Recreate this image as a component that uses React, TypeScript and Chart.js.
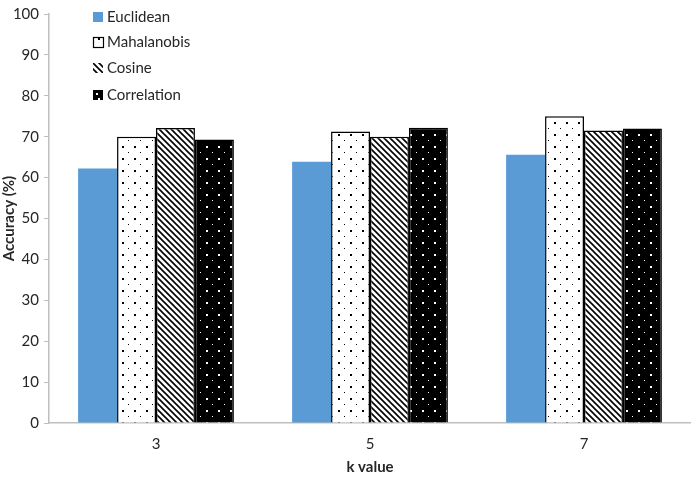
import React, { useEffect, useRef } from "react";
import { Chart, registerables } from "chart.js";

Chart.register(...registerables);

const kValues = ["3", "5", "7"];
const euclidean = [62.2, 63.9, 65.6];
const mahalanobis = [70.0, 71.3, 75.0];
const cosine = [72.1, 70.0, 71.5];
const correlation = [69.3, 72.2, 72.0];
const seriesNames = ["Euclidean", "Mahalanobis", "Cosine", "Correlation"];
const yTicks = [0, 10, 20, 30, 40, 50, 60, 70, 80, 90, 100];

const FONT = "Lato, 'Open Sans', sans-serif";
const TEXT = "#262626";

function makeTile(size: number, draw: (c: CanvasRenderingContext2D) => void): CanvasPattern {
  const cv = document.createElement("canvas");
  cv.width = size;
  cv.height = size;
  const c = cv.getContext("2d")!;
  draw(c);
  const p = document.createElement("canvas").getContext("2d")!.createPattern(cv, "repeat");
  return p as CanvasPattern;
}

// White field with staggered black dots
function dottedWhite() {
  return makeTile(12, (c) => {
    c.fillStyle = "#ffffff";
    c.fillRect(0, 0, 12, 12);
    c.fillStyle = "#000000";
    c.fillRect(2, 2, 2, 2);
    c.fillRect(8, 8, 1, 1);
  });
}

// Black field with staggered white dots
function dottedBlack() {
  return makeTile(12, (c) => {
    c.fillStyle = "#000000";
    c.fillRect(0, 0, 12, 12);
    c.fillStyle = "#ffffff";
    c.fillRect(2, 2, 2, 2);
    c.fillRect(8, 8, 1, 1);
  });
}

// Dense downward diagonal hatching
function diagonal() {
  return makeTile(6, (c) => {
    c.fillStyle = "#ffffff";
    c.fillRect(0, 0, 6, 6);
    c.strokeStyle = "#000000";
    c.lineWidth = 1.6;
    c.beginPath();
    c.moveTo(-1, -1);
    c.lineTo(7, 7);
    c.moveTo(-1, 5);
    c.lineTo(1, 7);
    c.moveTo(5, -1);
    c.lineTo(7, 1);
    c.stroke();
  });
}

export default function App() {
  const ref = useRef<HTMLCanvasElement>(null);

  useEffect(() => {
    const fills = ["#5B9BD5", dottedWhite(), diagonal(), dottedBlack()];
    const values = [euclidean, mahalanobis, cosine, correlation];

    const legendPlugin = {
      id: "boxLegend",
      afterDraw(chart: Chart) {
        const c = chart.ctx;
        c.save();
        const x0 = 93;
        const ys = [17, 42, 68, 95];
        c.font = `15px ${FONT}`;
        c.textBaseline = "middle";
        seriesNames.forEach((name, i) => {
          const y = ys[i];
          c.fillStyle = fills[i] as any;
          c.fillRect(x0, y - 5, 10, 10);
          if (i === 1) {
            c.strokeStyle = "#000";
            c.lineWidth = 1.2;
            c.strokeRect(x0 + 0.5, y - 4.5, 10, 10);
          } else if (i === 3) {
            c.fillStyle = "#fff";
            c.fillRect(x0 + 3, y - 2, 2, 2);
          }
          c.fillStyle = TEXT;
          c.fillText(name, x0 + 14, y);
        });
        c.restore();
      },
    };

    const chart = new Chart(ref.current!, {
      type: "bar",
      data: {
        labels: kValues,
        datasets: seriesNames.map((name, i) => ({
          label: name,
          data: values[i],
          backgroundColor: fills[i] as any,
          borderColor: "#000000",
          borderWidth: i === 0 ? 0 : 1.5,
          borderSkipped: "bottom",
          categoryPercentage: 0.728,
          barPercentage: 1.0,
        })),
      },
      options: {
        animation: false,
        responsive: false,
        maintainAspectRatio: false,
        layout: { padding: { top: 8, right: 0, left: 0, bottom: 0 } },
        plugins: {
          legend: { display: false },
          tooltip: { enabled: false },
        },
        scales: {
          x: {
            grid: { display: false, drawTicks: false },
            border: { color: "#bfbfbf", width: 1.5 },
            ticks: { color: TEXT, font: { family: FONT, size: 15 }, padding: 12 },
            title: {
              display: true,
              text: "k value",
              color: TEXT,
              font: { family: FONT, size: 15, weight: "bold" },
              padding: { top: 4, bottom: 16 },
            },
            afterFit: (s: any) => {
              s.height = 69;
            },
          },
          y: {
            min: 0,
            max: 100,
            afterBuildTicks: (s: any) => {
              s.ticks = yTicks.map((v) => ({ value: v }));
            },
            grid: {
              display: true,
              drawOnChartArea: false,
              drawTicks: true,
              tickLength: 5,
              color: "#bfbfbf",
            },
            border: { color: "#bfbfbf", width: 1.5 },
            ticks: { color: TEXT, font: { family: FONT, size: 15 }, padding: 5 },
            title: {
              display: true,
              text: "Accuracy (%)",
              color: TEXT,
              font: { family: FONT, size: 15, weight: "bold" },
              padding: { top: 0, bottom: 0 },
            },
            afterFit: (s: any) => {
              s.width = 49;
            },
          },
        },
      },
      plugins: [legendPlugin],
    });

    return () => chart.destroy();
  }, []);

  return (
    <div style={{ position: "fixed", left: 0, top: 0, width: 691, height: 492, background: "#fff" }}>
      <canvas ref={ref} width={691} height={492} style={{ display: "block" }} />
    </div>
  );
}
